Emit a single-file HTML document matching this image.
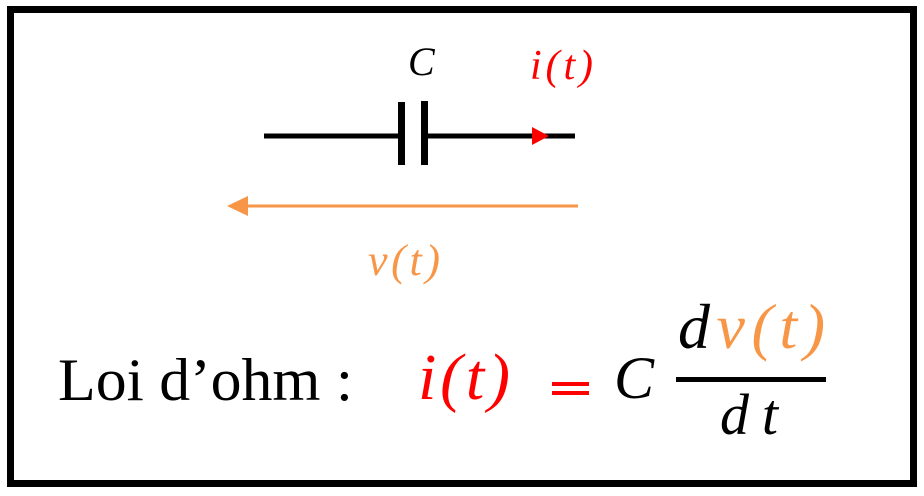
<!DOCTYPE html>
<html><head><meta charset="utf-8"><style>
html,body{margin:0;padding:0;background:#fff;}
svg{display:block;}
.m{font-family:"Liberation Serif",serif;font-style:italic;}
</style></head><body>
<svg width="924" height="496" viewBox="0 0 924 496" xmlns="http://www.w3.org/2000/svg">
<rect x="10.5" y="9.5" width="903" height="474" fill="none" stroke="#000" stroke-width="7"/>
<line x1="264" y1="136" x2="401" y2="136" stroke="#000" stroke-width="5"/>
<line x1="425" y1="136" x2="575" y2="136" stroke="#000" stroke-width="5"/>
<rect x="398" y="102" width="7" height="63" fill="#000"/>
<rect x="421" y="101" width="7" height="64" fill="#000"/>
<polygon points="532,127 549,136 532,145" fill="#f00"/>
<line x1="244" y1="206" x2="578" y2="206" stroke="#f79646" stroke-width="3"/>
<polygon points="227,206 248,196 248,216" fill="#f79646"/>
<text class="m" x="408" y="75" font-size="40" fill="#000" textLength="23" lengthAdjust="spacing">C</text>
<text class="m" x="530" y="79" font-size="42" fill="#f00" textLength="63" lengthAdjust="spacing">i(t)</text>
<text class="m" x="368" y="275" font-size="44" fill="#f79646" textLength="72" lengthAdjust="spacing">v(t)</text>
<text x="58" y="400" font-family="'Liberation Serif',serif" font-size="60" fill="#000" textLength="295" lengthAdjust="spacingAndGlyphs">Loi d’ohm :</text>
<text class="m" x="418" y="399" font-size="66" fill="#f00" textLength="92" lengthAdjust="spacing">i(t)</text>
<rect x="552" y="382" width="37" height="4" fill="#f00"/>
<rect x="552" y="391" width="37" height="4" fill="#f00"/>
<text class="m" x="614" y="398" font-size="60" fill="#000" textLength="33" lengthAdjust="spacing">C</text>
<text class="m" x="678" y="348" font-size="64" textLength="147" lengthAdjust="spacing"><tspan fill="#000">d</tspan><tspan fill="#f79646">v(t)</tspan></text>
<rect x="676" y="377" width="150" height="5" fill="#000"/>
<text class="m" x="720" y="434" font-size="58" fill="#000" textLength="58" lengthAdjust="spacing">dt</text>
</svg>
</body></html>
